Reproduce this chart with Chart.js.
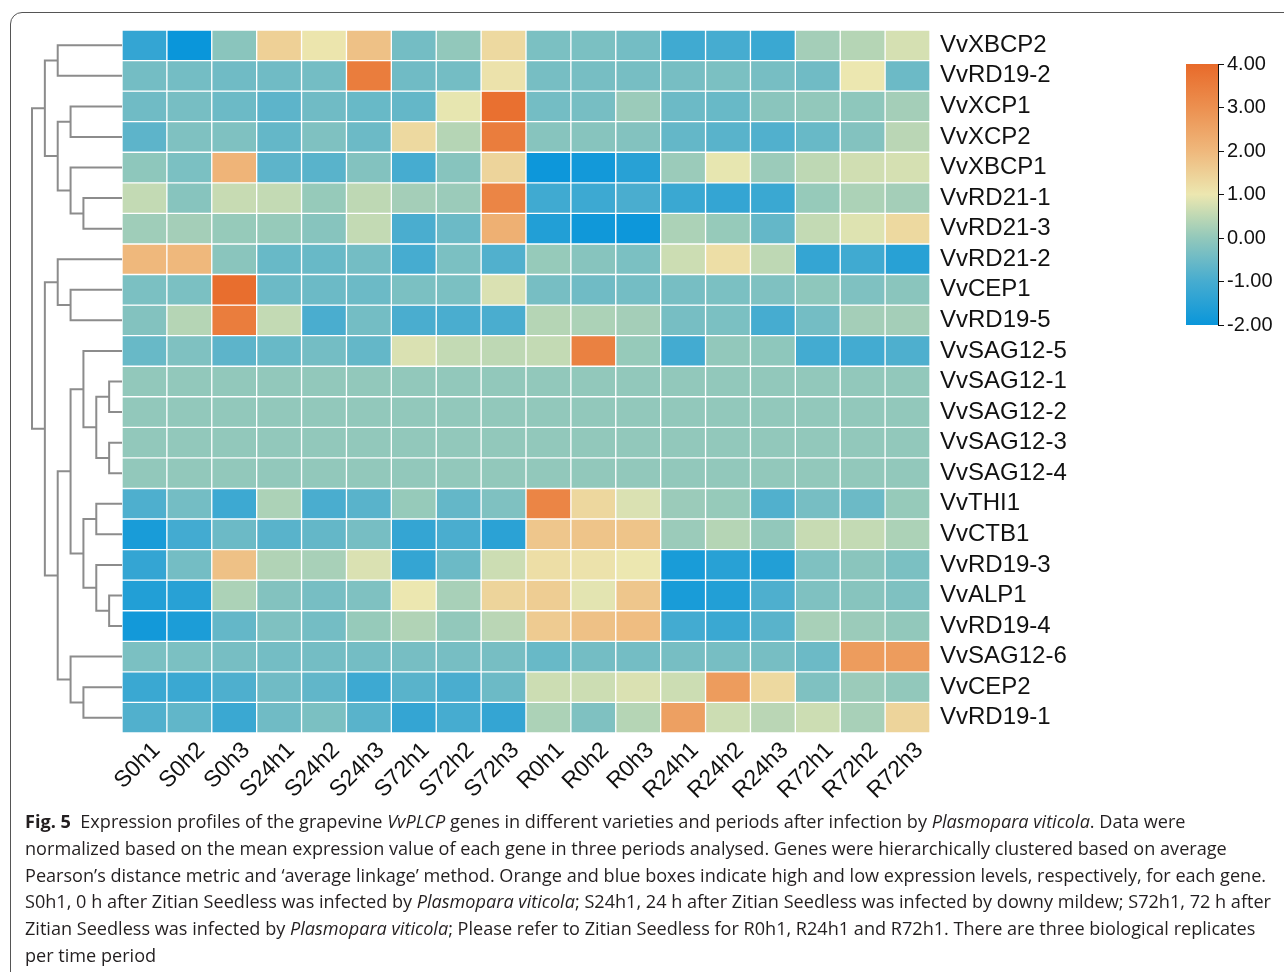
<!DOCTYPE html>
<html>
<head>
<meta charset="utf-8">
<script src="https://cdn.jsdelivr.net/npm/chart.js@4.4.0/dist/chart.umd.min.js"></script>
<style>
  body { margin: 0; background: #fff; width: 1284px; height: 972px; overflow: hidden; position: relative; }
  .frame { position: absolute; left: 10px; top: 12px; width: 1320px; height: 1000px; border: 1px solid #555; border-radius: 12px; }
  canvas { position: absolute; top: 0; }
  #tree { left: 0; }
  #heat { left: 0; }
  #key { left: 1150px; }
  .caption { position: absolute; left: 25px; top: 808px; font-family: 'Open Sans', sans-serif; font-size: 18.1px;
             line-height: 26.8px; color: #231f20; white-space: nowrap; }
</style>
</head>
<body>
<div class="frame"></div>
<canvas id="heat" width="1284" height="972"></canvas>
<canvas id="tree" width="130" height="972"></canvas>
<canvas id="key" width="134" height="400"></canvas>
<div class="caption">
<b>Fig. 5</b>&nbsp; Expression profiles of the grapevine <i>VvPLCP</i> genes in different varieties and periods after infection by <i>Plasmopara viticola</i>. Data were<br>
normalized based on the mean expression value of each gene in three periods analysed. Genes were hierarchically clustered based on average<br>
Pearson’s distance metric and ‘average linkage’ method. Orange and blue boxes indicate high and low expression levels, respectively, for each gene.<br>
S0h1, 0 h after Zitian Seedless was infected by <i>Plasmopara viticola</i>; S24h1, 24 h after Zitian Seedless was infected by downy mildew; S72h1, 72 h after<br>
Zitian Seedless was infected by <i>Plasmopara viticola</i>; Please refer to Zitian Seedless for R0h1, R24h1 and R72h1. There are three biological replicates<br>
per time period
</div>
<script>
// sampel (kolom) dan gen (baris)
const samples = ['S0h1', 'S0h2', 'S0h3', 'S24h1', 'S24h2', 'S24h3', 'S72h1', 'S72h2', 'S72h3',
                 'R0h1', 'R0h2', 'R0h3', 'R24h1', 'R24h2', 'R24h3', 'R72h1', 'R72h2', 'R72h3'];
const genes = ['VvXBCP2', 'VvRD19-2', 'VvXCP1', 'VvXCP2', 'VvXBCP1', 'VvRD21-1', 'VvRD21-3', 'VvRD21-2',
               'VvCEP1', 'VvRD19-5', 'VvSAG12-5', 'VvSAG12-1', 'VvSAG12-2', 'VvSAG12-3', 'VvSAG12-4',
               'VvTHI1', 'VvCTB1', 'VvRD19-3', 'VvALP1', 'VvRD19-4', 'VvSAG12-6', 'VvCEP2', 'VvRD19-1'];

// nilai ekspresi ternormalisasi, satu baris per gen
const expression = [
  [-1.3, -2.0, -0.1, 1.5, 1.05, 1.8, -0.4, 0.0, 1.3, -0.3, -0.3, -0.4, -1.1, -1.0, -1.2, 0.2, 0.4, 0.75],
  [-0.4, -0.4, -0.45, -0.45, -0.4, 3.5, -0.45, -0.4, 1.1, -0.35, -0.35, -0.35, -0.35, -0.3, -0.35, -0.45, 1.0, -0.5],
  [-0.45, -0.35, -0.5, -0.7, -0.45, -0.55, -0.6, 0.95, 3.85, -0.4, -0.35, 0.1, -0.5, -0.55, -0.1, 0.0, -0.05, 0.2],
  [-0.7, -0.25, -0.25, -0.6, -0.25, -0.5, 1.3, 0.4, 3.5, -0.15, -0.15, -0.2, -0.6, -0.75, -0.85, -0.55, -0.2, 0.45],
  [-0.05, -0.3, 2.1, -0.7, -0.75, -0.2, -1.0, -0.15, 1.4, -1.95, -1.85, -1.5, 0.1, 0.95, 0.1, 0.5, 0.7, 0.75],
  [0.55, -0.15, 0.6, 0.55, 0.05, 0.5, 0.2, 0.1, 3.3, -1.1, -1.15, -0.95, -1.2, -1.3, -1.2, 0.05, 0.3, 0.2],
  [0.15, 0.2, 0.05, 0.05, -0.15, 0.55, -0.95, -0.5, 2.2, -1.6, -1.9, -1.95, 0.3, 0.05, -0.6, 0.55, 0.85, 1.3],
  [2.0, 2.0, -0.1, -0.55, -0.55, -0.4, -1.0, -0.3, -0.85, 0.05, -0.15, -0.3, 0.65, 1.2, 0.5, -1.3, -1.1, -1.5],
  [-0.3, -0.3, 3.9, -0.5, -0.5, -0.5, -0.3, -0.3, 0.8, -0.35, -0.45, -0.4, -0.35, -0.3, -0.25, -0.05, -0.25, -0.1],
  [-0.2, 0.4, 3.5, 0.55, -0.95, -0.4, -0.95, -0.95, -0.95, 0.4, 0.3, 0.2, -0.35, -0.3, -1.0, -0.4, 0.2, 0.2],
  [-0.55, -0.25, -0.7, -0.55, -0.4, -0.6, 0.8, 0.55, 0.5, 0.55, 3.4, 0.05, -1.05, 0.0, -0.05, -1.05, -1.05, -0.9],
  [0, 0, 0, 0, 0, 0, 0, 0, 0, 0, 0, 0, 0, 0, 0, 0, 0, 0],
  [0, 0, 0, 0, 0, 0, 0, 0, 0, 0, 0, 0, 0, 0, 0, 0, 0, 0],
  [0, 0, 0, 0, 0, 0, 0, 0, 0, 0, 0, 0, 0, 0, 0, 0, 0, 0],
  [0, 0, 0, 0, 0, 0, 0, 0, 0, 0, 0, 0, 0, 0, 0, 0, 0, 0],
  [-0.9, -0.4, -1.15, 0.3, -0.95, -0.75, 0.05, -0.6, -0.25, 3.3, 1.35, 0.8, 0.1, 0.05, -0.85, -0.35, -0.5, 0.05],
  [-1.75, -1.05, -0.5, -0.75, -0.6, -0.35, -1.3, -0.95, -1.45, 1.7, 1.75, 1.75, 0.1, 0.4, 0.0, 0.6, 0.55, 0.3],
  [-1.3, -0.4, 1.8, 0.35, 0.25, 0.8, -1.3, -0.5, 0.65, 1.2, 1.1, 1.0, -1.75, -1.5, -1.6, -0.25, -0.1, -0.3],
  [-1.6, -1.5, 0.3, -0.2, -0.35, -0.25, 1.0, 0.25, 1.4, 1.55, 0.9, 1.7, -1.75, -1.6, -0.9, -0.25, -0.15, -0.25],
  [-1.85, -1.7, -0.6, -0.25, -0.4, 0.05, 0.35, 0.0, 0.45, 1.6, 1.8, 1.9, -1.05, -1.2, -0.75, 0.25, 0.1, 0.0],
  [-0.3, -0.3, -0.35, -0.4, -0.4, -0.4, -0.35, -0.35, -0.35, -0.55, -0.4, -0.4, -0.35, -0.35, -0.35, -0.5, 2.7, 2.7],
  [-1.2, -1.2, -0.9, -0.45, -0.65, -1.15, -0.75, -0.95, -0.5, 0.65, 0.65, 0.8, 0.65, 2.7, 1.3, -0.25, 0.1, 0.0],
  [-0.85, -0.65, -1.2, -0.45, -0.3, -0.75, -1.3, -1.0, -1.3, 0.3, -0.25, 0.4, 2.6, 0.65, 0.45, 0.65, 0.25, 1.4]
];

// dendrogram: [anak kiri, anak kanan, tinggi]; node baru diberi nomor 23, 24, ...
const linkage = [
  [0, 1, 5], [2, 3, 4], [5, 6, 3], [4, 25, 4], [24, 26, 5], [23, 27, 6],
  [8, 9, 4], [7, 29, 5], [11, 12, 1], [13, 14, 1], [31, 32, 2], [10, 33, 3],
  [15, 16, 2], [18, 19, 1], [17, 36, 2], [35, 37, 3], [34, 38, 4], [21, 22, 3],
  [20, 40, 4], [39, 41, 5], [30, 42, 6], [28, 43, 7]
];

// skala warna legenda
const keyTicks = [-2, -1, 0, 1, 2, 3, 4];
const colorStops = [
  [-2, [10, 150, 218]], [-1, [70, 172, 208]], [-0.5, [108, 186, 198]], [0, [146, 200, 187]],
  [0.5, [190, 216, 180]], [1, [236, 231, 176]], [2, [239, 184, 124]], [3, [236, 144, 80]], [4, [232, 106, 42]]
];

function rgb(c) { return 'rgb(' + c.map(Math.round).join(',') + ')'; }

function heatColor(v) {
  if (v <= colorStops[0][0]) return rgb(colorStops[0][1]);
  for (let i = 1; i < colorStops.length; i++) {
    const [v1, c1] = colorStops[i];
    const [v0, c0] = colorStops[i - 1];
    if (v <= v1) {
      const t = (v - v0) / (v1 - v0);
      return rgb(c0.map((c, k) => c + (c1[k] - c) * t));
    }
  }
  return rgb(colorStops[colorStops.length - 1][1]);
}

Chart.defaults.font.family = "'Liberation Sans', Arial, sans-serif";
Chart.defaults.color = '#111';
Chart.defaults.animation = false;

// ================= heatmap =================
new Chart(document.getElementById('heat'), {
  type: 'bar',
  data: {
    labels: samples,
    datasets: genes.map((g, r) => ({
      label: g,
      data: expression[r].map(() => [r, r + 1]),
      backgroundColor: expression[r].map(heatColor),
      borderColor: '#fff',
      borderWidth: 1,
      borderSkipped: false,
      categoryPercentage: 1,
      barPercentage: 1,
      grouped: false
    }))
  },
  options: {
    responsive: false,
    layout: { padding: { left: 122, top: 30 } },
    plugins: { legend: { display: false }, tooltip: { enabled: false } },
    scales: {
      x: {
        grid: { display: false },
        border: { display: false },
        ticks: { autoSkip: false, maxRotation: 45, minRotation: 45, font: { size: 23 }, padding: -4, labelOffset: 12 },
        afterFit: s => { s.height = 239; }
      },
      y: {
        position: 'right',
        min: 0,
        max: genes.length,
        reverse: true,
        grid: { display: false },
        border: { display: false },
        afterBuildTicks: s => { s.ticks = genes.map((g, i) => ({ value: i + 0.5 })); },
        ticks: { callback: v => genes[Math.floor(v)], font: { size: 24 }, padding: 2 },
        afterFit: s => { s.width = 354; }
      }
    }
  }
});

// ================= dendrogram =================
const nodes = genes.map((g, i) => ({ y: i + 0.5, h: 0 }));
const treeSets = linkage.map(([a, b, h]) => {
  const A = nodes[a], B = nodes[b];
  nodes.push({ y: (A.y + B.y) / 2, h: h });
  return {
    data: [{ x: A.h, y: A.y }, { x: h, y: A.y }, { x: h, y: B.y }, { x: B.h, y: B.y }],
    showLine: true,
    borderColor: '#8c8c8c',
    borderWidth: 2,
    borderJoinStyle: 'miter',
    pointRadius: 0,
    clip: false
  };
});

new Chart(document.getElementById('tree'), {
  type: 'scatter',
  data: { datasets: treeSets },
  options: {
    responsive: false,
    layout: { padding: { left: 32, right: 8, top: 30, bottom: 239 } },
    plugins: { legend: { display: false }, tooltip: { enabled: false } },
    scales: {
      x: { type: 'linear', min: 0, max: 7, reverse: true, display: false },
      y: { type: 'linear', min: 0, max: genes.length, reverse: true, display: false }
    }
  }
});

// ================= legenda warna =================
new Chart(document.getElementById('key'), {
  type: 'bar',
  data: {
    labels: [''],
    datasets: [{
      data: [[keyTicks[0], keyTicks[keyTicks.length - 1]]],
      backgroundColor: function (ctx) {
        const a = ctx.chart.chartArea;
        if (!a) return null;
        const g = ctx.chart.ctx.createLinearGradient(0, a.bottom, 0, a.top);
        const lo = keyTicks[0], hi = keyTicks[keyTicks.length - 1];
        colorStops.forEach(([v, c]) => g.addColorStop((v - lo) / (hi - lo), rgb(c)));
        return g;
      },
      borderWidth: 0,
      categoryPercentage: 1,
      barPercentage: 1
    }]
  },
  options: {
    responsive: false,
    layout: { padding: { left: 36, top: 64, bottom: 75 } },
    plugins: { legend: { display: false }, tooltip: { enabled: false } },
    scales: {
      x: { display: false },
      y: {
        position: 'right',
        min: keyTicks[0],
        max: keyTicks[keyTicks.length - 1],
        afterBuildTicks: s => { s.ticks = keyTicks.map(v => ({ value: v })); },
        ticks: { callback: v => v.toFixed(2), font: { size: 20 }, padding: 3 },
        grid: { drawOnChartArea: false, tickLength: 6, color: '#111' },
        border: { color: '#111' },
        afterFit: s => { s.width = 66; }
      }
    }
  }
});
</script>
</body>
</html>
